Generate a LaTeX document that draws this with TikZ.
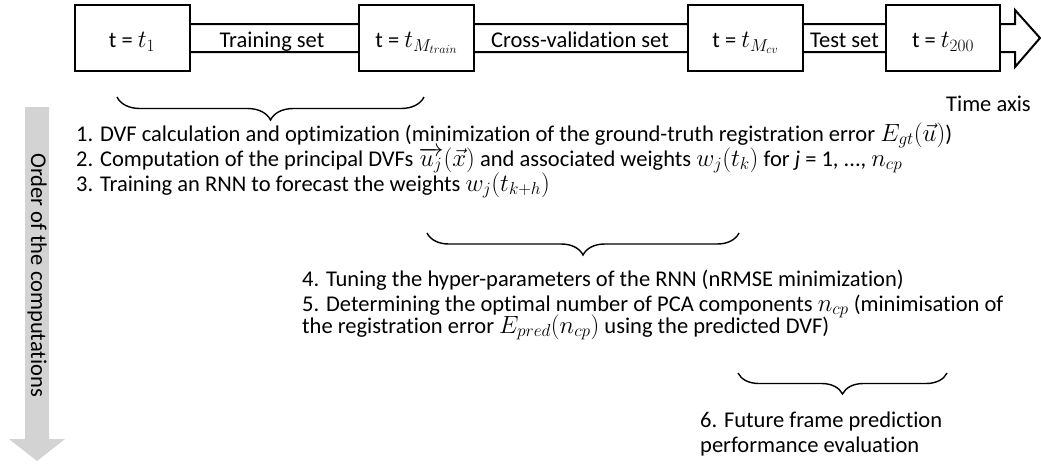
\documentclass[tikz,border=0pt]{standalone}
\usepackage{fontspec}
\setmainfont{Carlito}[Ligatures=NoCommon]
\DeclareMathSizes{22.5}{24}{17}{13}
\usetikzlibrary{decorations.pathreplacing}
\definecolor{arrgray}{HTML}{D3D3D3}
\begin{document}
\begin{tikzpicture}[x=1pt,y=-1pt,
  font=\fontsize{22.5}{26}\selectfont,
  tbox/.style={draw, line width=2pt, fill=white, minimum width=115pt, minimum height=66pt, inner sep=0pt, text height=22pt, text depth=3pt},
  blbl/.style={inner sep=0pt, text height=22pt, text depth=3pt},
  step line/.style={anchor=base west, inner sep=0pt},
  brc/.style={decorate, decoration={brace, mirror, amplitude=11pt}, line width=1.4pt}]
\useasboundingbox (0,0) rectangle (1041,464);
% time axis arrow
\coordinate (a1) at (190,24);
\coordinate (a2) at (1015,24);
\coordinate (a3) at (1015,10);
\coordinate (tip) at (1040,38);
\coordinate (a5) at (1015,67);
\coordinate (a6) at (1015,52);
\coordinate (a7) at (190,52);
\draw[line width=2pt, line join=miter, fill=white] (a1) -- (a2) -- (a3) -- (tip) -- (a5) -- (a6) -- (a7);
% boxes
\node[tbox] (b1) at (132,38) {t = $t_1$};
\node[tbox] (b2) at (416.5,38) {t = $t_{M_{train}}$};
\node[tbox] (b3) at (745.5,38) {t = $t_{M_{cv}}$};
\node[tbox, minimum width=114pt] (b4) at (943,38) {t = $t_{200}$};
\node[blbl] (trs) at (272,38) {Training set};
\node[blbl] (cvs) at (580,38) {Cross-validation set};
\node[blbl] (tes) at (844.5,38) {Test set};
\node[anchor=base east, inner sep=0pt] (tax) at (1031,111) {Time axis};
% braces
\coordinate (br1a) at (117,97); \coordinate (br1b) at (424,97);
\coordinate (br2a) at (427,233); \coordinate (br2b) at (739,233);
\coordinate (br3a) at (738,373); \coordinate (br3b) at (947,373);
\draw[brc, decoration={amplitude=23pt}] (br1a) -- (br1b);
\draw[brc, decoration={amplitude=22pt}] (br2a) -- (br2b);
\draw[brc, decoration={amplitude=21pt}] (br3a) -- (br3b);
% steps
\node[step line] (s1) at (76,141) {1. DVF calculation and optimization (minimization of the ground-truth registration error $E_{gt}(\vec{u})$)};
\node[step line] (s2) at (76,166) {2. Computation of the principal DVFs $\overrightarrow{u_j}(\vec{x})$ and associated weights $w_j(t_k)$ for \textit{j} = 1, ..., $n_{cp}$};
\node[step line] (s3) at (76,191) {3. Training an RNN to forecast the weights $w_j(t_{k+h})$};
\node[step line] (s4) at (302,286) {4. Tuning the hyper-parameters of the RNN (nRMSE minimization)};
\node[step line] (s5) at (302,311) {5. Determining the optimal number of PCA components $n_{cp}$ (minimisation of};
\node[step line] (s5b) at (302,333) {the registration error $E_{pred}(n_{cp})$ using the predicted DVF)};
\node[step line] (s6) at (700,427) {6. Future frame prediction};
\node[step line] (s6b) at (700,452) {performance evaluation};
% order arrow
\coordinate (g1) at (25,107); \coordinate (g2) at (49,107);
\coordinate (g3) at (49,439); \coordinate (g4) at (65,439);
\coordinate (gtip) at (37,461);
\coordinate (g6) at (9,439); \coordinate (g7) at (25,439);
\fill[arrgray] (g1) -- (g2) -- (g3) -- (g4) -- (gtip) -- (g6) -- (g7) -- cycle;
\node[rotate=-90, inner sep=0pt] (ord) at (37,275) {Order of the computations};
\end{tikzpicture}
\end{document}
